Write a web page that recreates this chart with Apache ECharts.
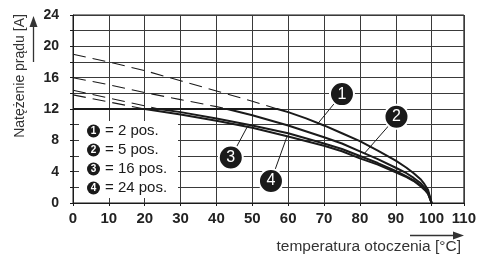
<!DOCTYPE html>
<html>
<head>
<meta charset="utf-8">
<script src="https://cdn.jsdelivr.net/npm/echarts@6.0.0/dist/echarts.min.js"></script>
<style>
  html, body { margin: 0; padding: 0; background: #fff; }
  #chart { width: 479px; height: 257px; }
</style>
</head>
<body>
<div id="chart"></div>
<script>
// tick labels
var xLabels = [0, 10, 20, 30, 40, 50, 60, 70, 80, 90, 100, 110];
var yLabels = [0, 4, 8, 12, 16, 20, 24];

// 1 = 2 pos.
var t1 = [0, 57, 60, 65, 70, 75, 80, 85, 90, 93, 95, 97, 98, 99, 100];
var i1 = [12, 12, 11.6, 10.8, 9.9, 8.9, 7.9, 6.7, 5.4, 4.5, 3.8, 3.0, 2.4, 1.7, 0];
var t1d = [0, 10, 20, 30, 40, 50, 57];
var i1d = [19, 18, 16.9, 15.6, 14.3, 13.0, 12];

// 2 = 5 pos.
var t2 = [0, 43, 50, 60, 70, 75, 80, 85, 90, 93, 95, 97, 98, 99, 100];
var i2 = [12, 12, 11.2, 9.9, 8.4, 7.6, 6.6, 5.6, 4.5, 3.8, 3.2, 2.5, 2.0, 1.4, 0];
var t2d = [0, 10, 20, 30, 40, 43];
var i2d = [16, 15.1, 14.1, 13.2, 12.3, 12];

// 3 = 16 pos.
var t3 = [0, 24, 30, 40, 50, 60, 70, 75, 80, 85, 90, 93, 95, 97, 98, 99, 100];
var i3 = [12, 12, 11.6, 10.8, 9.9, 8.9, 7.6, 6.9, 6.0, 5.1, 4.1, 3.4, 2.9, 2.2, 1.8, 1.2, 0];
var t3d = [0, 10, 20, 24];
var i3d = [14.4, 13.4, 12.4, 12];

// 4 = 24 pos.
var t4 = [0, 20, 30, 40, 50, 60, 70, 75, 80, 85, 90, 93, 95, 97, 98, 99, 100];
var i4 = [12, 12, 11.3, 10.5, 9.6, 8.5, 7.3, 6.6, 5.7, 4.9, 3.9, 3.3, 2.8, 2.1, 1.7, 1.2, 0];
var t4d = [0, 10, 20];
var i4d = [13.8, 12.9, 12];

var legendNums = ['1', '2', '3', '4'];
var legendText = ['= 2 pos.', '= 5 pos.', '= 16 pos.', '= 24 pos.'];

var FONT = '"Liberation Sans", Arial, sans-serif';
var INK = '#1a1a1a';

function pairs(t, a) {
  return t.map(function (x, k) { return [x, a[k]]; });
}

function solid(t, a) {
  return {
    type: 'line', data: pairs(t, a), symbol: 'none',
    lineStyle: { color: INK, width: 2, join: 'round' }, z: 3
  };
}

function dashed(t, a) {
  return {
    type: 'line', data: pairs(t, a), symbol: 'none',
    lineStyle: { color: INK, width: 1.1, type: [13, 7] }, z: 2
  };
}

// callout circles and the point on the curve each one points at
var callouts = [
  { n: '1', at: [75.0, 13.9], to: [68.2, 10.1] },
  { n: '2', at: [90.2, 11.0], to: [81.2, 6.3] },
  { n: '3', at: [44.0, 5.8], to: [48.8, 9.9] },
  { n: '4', at: [55.2, 2.8], to: [59.6, 8.4] }
];

// legend box (graphic, sits over the grid)
var legendGraphics = [{
  type: 'rect', shape: { x: 79, y: 121, width: 99, height: 77 },
  style: { fill: '#fff' }, z: 100
}];
legendNums.forEach(function (n, k) {
  var cy = 131 + k * 19;
  legendGraphics.push(
    { type: 'circle', shape: { cx: 93.5, cy: cy, r: 6.5 }, style: { fill: INK }, z: 101 },
    { type: 'text', x: 93.5, y: cy + 0.5, z: 102,
      style: { text: n, fill: '#fff', font: 'bold 10px ' + FONT,
               align: 'center', verticalAlign: 'middle', textAlign: 'center', textVerticalAlign: 'middle' } },
    { type: 'text', x: 105, y: cy, z: 102,
      style: { text: legendText[k], fill: INK, font: '15px ' + FONT,
               align: 'left', verticalAlign: 'middle', textAlign: 'left', textVerticalAlign: 'middle' } }
  );
});

var chart = echarts.init(document.getElementById('chart'), null, { renderer: 'canvas' });

chart.setOption({
  animation: false,
  backgroundColor: '#fff',
  grid: {
    left: 73, top: 15, width: 391, height: 188,
    show: true, borderColor: INK, borderWidth: 1, backgroundColor: 'transparent'
  },
  xAxis: {
    type: 'value', min: 0, max: 109, interval: 10,
    axisLine: { show: true, lineStyle: { color: INK, width: 1 } },
    axisTick: { show: true, length: 3, lineStyle: { color: INK } },
    axisLabel: {
      margin: 8, color: '#222', fontFamily: FONT, fontSize: 15, fontWeight: 'bold',
      showMaxLabel: true,
      formatter: function (v, idx) { return String(xLabels[idx]); }
    },
    splitLine: { show: true, lineStyle: { color: '#3a3a3a', width: 1 } }
  },
  yAxis: {
    type: 'value', min: 0, max: 24, interval: 2,
    axisLine: { show: true, lineStyle: { color: INK, width: 1 } },
    axisTick: { show: true, length: 3, lineStyle: { color: INK } },
    axisLabel: {
      margin: 14, color: '#222', fontFamily: FONT, fontSize: 14, fontWeight: 'bold',
      formatter: function (v) { return yLabels.indexOf(v) >= 0 ? String(v) : ''; }
    },
    splitLine: { show: true, lineStyle: { color: '#3a3a3a', width: 1 } }
  },
  series: [
    dashed(t1d, i1d), dashed(t2d, i2d), dashed(t3d, i3d), dashed(t4d, i4d),
    solid(t1, i1), solid(t2, i2), solid(t3, i3), solid(t4, i4),
    {
      type: 'lines', coordinateSystem: 'cartesian2d', silent: true, z: 4,
      lineStyle: { color: INK, width: 1, opacity: 1 },
      data: callouts.map(function (c) { return { coords: [c.at, c.to] }; })
    },
    {
      type: 'scatter', silent: true, z: 5, symbolSize: 24,
      itemStyle: { color: INK, borderColor: '#fff', borderWidth: 2, opacity: 1 },
      label: {
        show: true, position: 'inside', color: '#fff', fontFamily: FONT, fontSize: 16,
        formatter: function (p) { return p.value[2]; }
      },
      data: callouts.map(function (c) { return [c.at[0], c.at[1], c.n]; })
    }
  ],
  graphic: legendGraphics.concat([
    // y axis title + arrow
    { type: 'text', x: 20, y: 76, rotation: Math.PI / 2, z: 50,
      style: { text: 'Natężenie prądu [A]', fill: '#333', font: '14px ' + FONT,
               align: 'center', verticalAlign: 'middle', textAlign: 'center', textVerticalAlign: 'middle' } },
    { type: 'line', shape: { x1: 33.5, y1: 62, x2: 33.5, y2: 25 }, style: { stroke: '#333', lineWidth: 1.3 }, z: 50 },
    { type: 'polygon', shape: { points: [[29.5, 27], [37.5, 27], [33.5, 16]] }, style: { fill: '#333' }, z: 50 },
    // x axis title + arrow
    { type: 'text', x: 461, y: 247, z: 50,
      style: { text: 'temperatura otoczenia [°C]', fill: '#333', font: '15.5px ' + FONT,
               align: 'right', verticalAlign: 'middle', textAlign: 'right', textVerticalAlign: 'middle' } },
    { type: 'line', shape: { x1: 410, y1: 235.5, x2: 455, y2: 235.5 }, style: { stroke: '#333', lineWidth: 1.3 }, z: 50 },
    { type: 'polygon', shape: { points: [[453, 231.5], [453, 239.5], [464, 235.5]] }, style: { fill: '#333' }, z: 50 }
  ])
});
</script>
</body>
</html>
